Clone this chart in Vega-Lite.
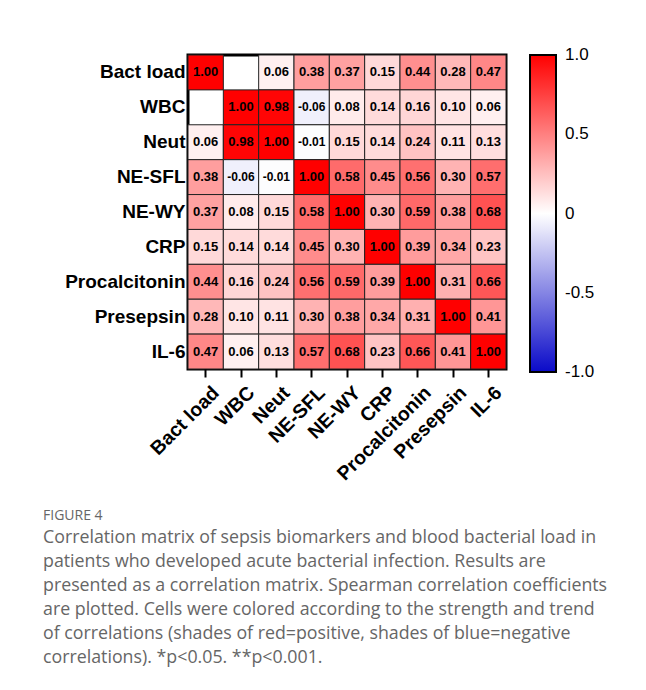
{
  "$schema": "https://vega.github.io/schema/vega-lite/v6.json",
  "autosize": {"type": "none"},
  "padding": {"left": 188, "top": 55, "right": 140, "bottom": 321},
  "width": 318,
  "height": 314,
  "background": "white",
  "config": {
    "view": {"stroke": "black", "strokeWidth": 3},
    "font": "Liberation Sans",
    "locale": {"number": {"decimal": ".", "thousands": ",", "grouping": [3], "currency": ["$", ""], "minus": "-"}}
  },
  "title": {
    "text": "FIGURE 4",
    "subtitle": [
      "Correlation matrix of sepsis biomarkers and blood bacterial load in",
      "patients who developed acute bacterial infection. Results are",
      "presented as a correlation matrix. Spearman correlation coefficients",
      "are plotted. Cells were colored according to the strength and trend",
      "of correlations (shades of red=positive, shades of blue=negative",
      "correlations). *p<0.05. **p<0.001."
    ],
    "orient": "bottom",
    "anchor": "start",
    "frame": "group",
    "dx": -145,
    "offset": 26,
    "font": "Open Sans",
    "fontSize": 14,
    "fontWeight": "normal",
    "color": "#666666",
    "subtitleFont": "Open Sans",
    "subtitleFontSize": 17.8,
    "subtitleColor": "#666666",
    "subtitleLineHeight": 24,
    "subtitlePadding": 6
  },
  "data": {
    "values": [
      {"row": "Bact load", "col": "Bact load", "r": 1.00},
      {"row": "Bact load", "col": "Neut", "r": 0.06},
      {"row": "Bact load", "col": "NE-SFL", "r": 0.38},
      {"row": "Bact load", "col": "NE-WY", "r": 0.37},
      {"row": "Bact load", "col": "CRP", "r": 0.15},
      {"row": "Bact load", "col": "Procalcitonin", "r": 0.44},
      {"row": "Bact load", "col": "Presepsin", "r": 0.28},
      {"row": "Bact load", "col": "IL-6", "r": 0.47},
      {"row": "WBC", "col": "WBC", "r": 1.00},
      {"row": "WBC", "col": "Neut", "r": 0.98},
      {"row": "WBC", "col": "NE-SFL", "r": -0.06},
      {"row": "WBC", "col": "NE-WY", "r": 0.08},
      {"row": "WBC", "col": "CRP", "r": 0.14},
      {"row": "WBC", "col": "Procalcitonin", "r": 0.16},
      {"row": "WBC", "col": "Presepsin", "r": 0.10},
      {"row": "WBC", "col": "IL-6", "r": 0.06},
      {"row": "Neut", "col": "Bact load", "r": 0.06},
      {"row": "Neut", "col": "WBC", "r": 0.98},
      {"row": "Neut", "col": "Neut", "r": 1.00},
      {"row": "Neut", "col": "NE-SFL", "r": -0.01},
      {"row": "Neut", "col": "NE-WY", "r": 0.15},
      {"row": "Neut", "col": "CRP", "r": 0.14},
      {"row": "Neut", "col": "Procalcitonin", "r": 0.24},
      {"row": "Neut", "col": "Presepsin", "r": 0.11},
      {"row": "Neut", "col": "IL-6", "r": 0.13},
      {"row": "NE-SFL", "col": "Bact load", "r": 0.38},
      {"row": "NE-SFL", "col": "WBC", "r": -0.06},
      {"row": "NE-SFL", "col": "Neut", "r": -0.01},
      {"row": "NE-SFL", "col": "NE-SFL", "r": 1.00},
      {"row": "NE-SFL", "col": "NE-WY", "r": 0.58},
      {"row": "NE-SFL", "col": "CRP", "r": 0.45},
      {"row": "NE-SFL", "col": "Procalcitonin", "r": 0.56},
      {"row": "NE-SFL", "col": "Presepsin", "r": 0.30},
      {"row": "NE-SFL", "col": "IL-6", "r": 0.57},
      {"row": "NE-WY", "col": "Bact load", "r": 0.37},
      {"row": "NE-WY", "col": "WBC", "r": 0.08},
      {"row": "NE-WY", "col": "Neut", "r": 0.15},
      {"row": "NE-WY", "col": "NE-SFL", "r": 0.58},
      {"row": "NE-WY", "col": "NE-WY", "r": 1.00},
      {"row": "NE-WY", "col": "CRP", "r": 0.30},
      {"row": "NE-WY", "col": "Procalcitonin", "r": 0.59},
      {"row": "NE-WY", "col": "Presepsin", "r": 0.38},
      {"row": "NE-WY", "col": "IL-6", "r": 0.68},
      {"row": "CRP", "col": "Bact load", "r": 0.15},
      {"row": "CRP", "col": "WBC", "r": 0.14},
      {"row": "CRP", "col": "Neut", "r": 0.14},
      {"row": "CRP", "col": "NE-SFL", "r": 0.45},
      {"row": "CRP", "col": "NE-WY", "r": 0.30},
      {"row": "CRP", "col": "CRP", "r": 1.00},
      {"row": "CRP", "col": "Procalcitonin", "r": 0.39},
      {"row": "CRP", "col": "Presepsin", "r": 0.34},
      {"row": "CRP", "col": "IL-6", "r": 0.23},
      {"row": "Procalcitonin", "col": "Bact load", "r": 0.44},
      {"row": "Procalcitonin", "col": "WBC", "r": 0.16},
      {"row": "Procalcitonin", "col": "Neut", "r": 0.24},
      {"row": "Procalcitonin", "col": "NE-SFL", "r": 0.56},
      {"row": "Procalcitonin", "col": "NE-WY", "r": 0.59},
      {"row": "Procalcitonin", "col": "CRP", "r": 0.39},
      {"row": "Procalcitonin", "col": "Procalcitonin", "r": 1.00},
      {"row": "Procalcitonin", "col": "Presepsin", "r": 0.31},
      {"row": "Procalcitonin", "col": "IL-6", "r": 0.66},
      {"row": "Presepsin", "col": "Bact load", "r": 0.28},
      {"row": "Presepsin", "col": "WBC", "r": 0.10},
      {"row": "Presepsin", "col": "Neut", "r": 0.11},
      {"row": "Presepsin", "col": "NE-SFL", "r": 0.30},
      {"row": "Presepsin", "col": "NE-WY", "r": 0.38},
      {"row": "Presepsin", "col": "CRP", "r": 0.34},
      {"row": "Presepsin", "col": "Procalcitonin", "r": 0.31},
      {"row": "Presepsin", "col": "Presepsin", "r": 1.00},
      {"row": "Presepsin", "col": "IL-6", "r": 0.41},
      {"row": "IL-6", "col": "Bact load", "r": 0.47},
      {"row": "IL-6", "col": "WBC", "r": 0.06},
      {"row": "IL-6", "col": "Neut", "r": 0.13},
      {"row": "IL-6", "col": "NE-SFL", "r": 0.57},
      {"row": "IL-6", "col": "NE-WY", "r": 0.68},
      {"row": "IL-6", "col": "CRP", "r": 0.23},
      {"row": "IL-6", "col": "Procalcitonin", "r": 0.66},
      {"row": "IL-6", "col": "Presepsin", "r": 0.41},
      {"row": "IL-6", "col": "IL-6", "r": 1.00}
    ]
  },
  "encoding": {
    "x": {
      "field": "col", "type": "nominal",
      "sort": ["Bact load", "WBC", "Neut", "NE-SFL", "NE-WY", "CRP", "Procalcitonin", "Presepsin", "IL-6"],
      "scale": {"domain": ["Bact load", "WBC", "Neut", "NE-SFL", "NE-WY", "CRP", "Procalcitonin", "Presepsin", "IL-6"], "paddingInner": 0, "paddingOuter": 0},
      "axis": {
        "title": null, "orient": "bottom", "domain": false,
        "ticks": true, "tickSize": 8, "tickWidth": 2, "tickColor": "black",
        "labelAngle": -45, "labelAlign": "right", "labelBaseline": "top",
        "labelPadding": 6, "labelOffset": 4,
        "labelFont": "Liberation Sans", "labelFontWeight": "bold", "labelFontSize": 19.5, "labelColor": "black"
      }
    },
    "y": {
      "field": "row", "type": "nominal",
      "sort": ["Bact load", "WBC", "Neut", "NE-SFL", "NE-WY", "CRP", "Procalcitonin", "Presepsin", "IL-6"],
      "scale": {"domain": ["Bact load", "WBC", "Neut", "NE-SFL", "NE-WY", "CRP", "Procalcitonin", "Presepsin", "IL-6"], "paddingInner": 0, "paddingOuter": 0},
      "axis": {
        "title": null, "domain": false, "ticks": false, "labelPadding": 3,
        "labelFont": "Liberation Sans", "labelFontWeight": "bold", "labelFontSize": 19, "labelColor": "black"
      }
    }
  },
  "layer": [
    {
      "mark": {"type": "rect", "stroke": "#222222", "strokeWidth": 1},
      "encoding": {
        "color": {
          "field": "r", "type": "quantitative",
          "scale": {"domain": [-1, 0, 1], "range": ["#0a0ac8", "#ffffff", "#ff0000"], "interpolate": "rgb"},
          "legend": {
            "title": null, "orient": "right", "offset": 24, "padding": 0,
            "direction": "vertical",
            "gradientLength": 317, "gradientThickness": 26,
            "gradientStrokeColor": "black", "gradientStrokeWidth": 2,
            "values": [-0.9999, -0.5, 0, 0.5, 0.9999],
            "labelExpr": "abs(datum.value) < 0.01 ? '0' : format(datum.value, '.1f')",
            "labelFont": "Liberation Sans", "labelFontSize": 17, "labelColor": "black",
            "labelOffset": 9, "labelBaseline": "middle", "labelOverlap": false
          }
        }
      }
    },
    {
      "mark": {"type": "text", "font": "Liberation Sans", "fontWeight": "bold", "color": "black"},
      "encoding": {
        "text": {"field": "r", "type": "quantitative", "format": ".2f"},
        "size": {"condition": {"test": "datum.r < 0", "value": 12}, "value": 13}
      }
    }
  ]
}
